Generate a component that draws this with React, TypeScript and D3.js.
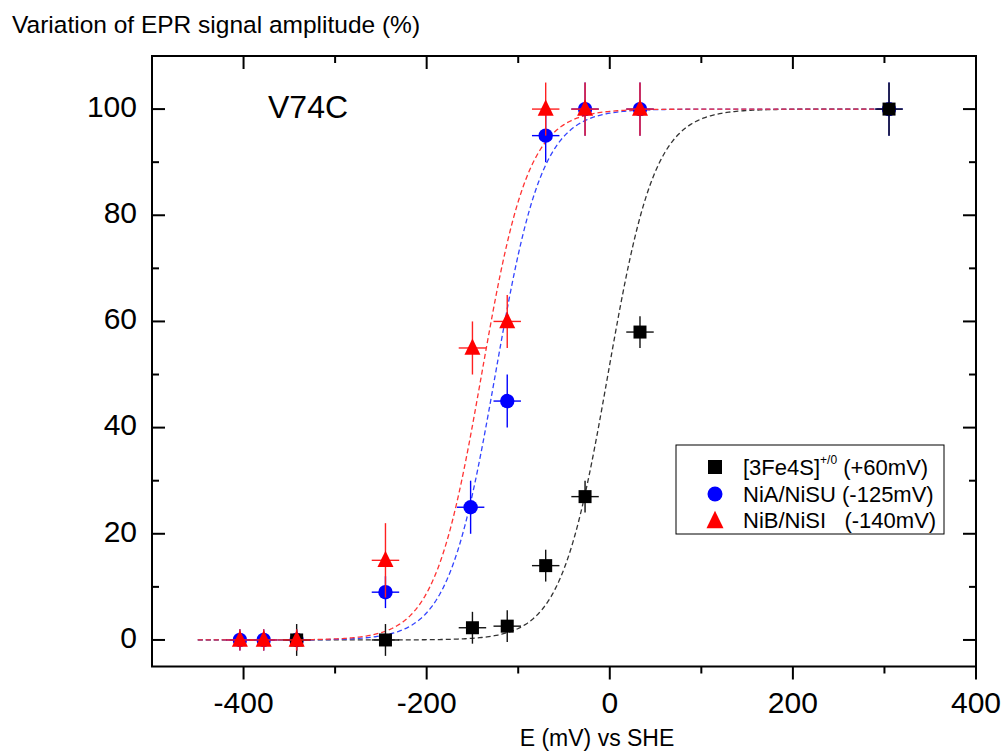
import React from "react";
import * as d3 from "d3";

// ---- data ----
const blackE = [-342, -245, -150, -112, -70, -27, 33, 305];
const blackV = [0, 0, 2.3, 2.6, 14, 27, 58, 100];
const blackErr = [3, 3, 3, 3, 3, 3, 3, 5];

const blueE = [-404, -378, -342, -245, -152, -112, -70, -27, 33, 305];
const blueV = [0, 0, 0, 9, 25, 45, 95, 100, 100, 100];
const blueErr = [2, 2, 2, 3, 5, 5, 5, 5, 5, 5];

const redE = [-404, -378, -342, -245, -150, -112, -70, -27, 33];
const redV = [0, 0, 0, 15, 55, 60, 100, 100, 100];
const redErr = [2, 2, 2, 7, 5, 5, 5, 5, 5];

const xErrMV = 15;

// Nernst fit midpoints (mV), n = 1
const fitMid = [-2, -125, -140];
const fitColors = ["#333333", "#3344ff", "#ff3333"];
const fitRange = [-450, 300];

const xTicksMajor = [-400, -200, 0, 200, 400];
const xTicksMinor = [-300, -100, 100, 300];
const yTicksMajor = [0, 20, 40, 60, 80, 100];
const yTicksMinor = [10, 30, 50, 70, 90];

const legendLabels = ["[3Fe4S]", "NiA/NiSU (-125mV)", "NiB/NiSI   (-140mV)"];

const W = 1007;
const H = 753;
const L = 152, R = 976, T = 56, B = 666.5;

export default function App() {
  const x = d3.scaleLinear().domain([-500, 400]).range([L, R]);
  const y = d3.scaleLinear().domain([-5, 110]).range([B, T]);

  const sample = d3.range(fitRange[0], fitRange[1] + 0.1, 2);
  const line = d3.line<number[]>().x((d) => x(d[0])).y((d) => y(d[1]));
  const fits = fitMid.map((e0) =>
    line(sample.map((e) => [e, 100 / (1 + Math.exp(-(e - e0) / 25.7))]))
  );

  const square = (cx: number, cy: number, s: number, fill: string, key: string) => (
    <rect key={key} x={cx - s / 2} y={cy - s / 2} width={s} height={s} fill={fill} />
  );
  const circle = (cx: number, cy: number, r: number, fill: string, key: string) => (
    <circle key={key} cx={cx} cy={cy} r={r} fill={fill} />
  );
  const tri = (cx: number, cy: number, s: number, fill: string, key: string) => (
    <path
      key={key}
      d={`M${cx},${cy - s * 0.6}L${cx - s / 2},${cy + s * 0.42}L${cx + s / 2},${cy + s * 0.42}Z`}
      fill={fill}
    />
  );

  const errBars = (E: number[], V: number[], err: number[], color: string, k: string) =>
    E.map((e, i) => (
      <g key={k + i} stroke={color} strokeWidth={1.4}>
        <line x1={x(e)} x2={x(e)} y1={y(V[i] - err[i])} y2={y(V[i] + err[i])} />
        <line x1={x(e - xErrMV)} x2={x(e + xErrMV)} y1={y(V[i])} y2={y(V[i])} />
      </g>
    ));

  const font = "Liberation Sans, Arial, sans-serif";

  return (
    <svg
      width={W}
      height={H}
      style={{ position: "absolute", left: 0, top: 0, background: "#fff" }}
      fontFamily={font}
    >
      <rect x={0} y={0} width={W} height={H} fill="#fff" />

      {/* fit curves */}
      {fits.map((d, i) => (
        <path key={"fit" + i} d={d || ""} fill="none" stroke={fitColors[i]} strokeWidth={1.3} strokeDasharray="5,3" />
      ))}

      {/* blue series */}
      {errBars(blueE, blueV, blueErr, "#0000ff", "be")}
      {blueE.map((e, i) => circle(x(e), y(blueV[i]), 7.2, "#0000ff", "bc" + i))}

      {/* black series */}
      {errBars(blackE, blackV, blackErr, "#111", "ke")}
      {blackE.map((e, i) => square(x(e), y(blackV[i]), 13, "#000", "ks" + i))}

      {/* red series */}
      {errBars(redE, redV, redErr, "#ff2020", "re")}
      {redE.map((e, i) => tri(x(e), y(redV[i]), 16, "#ff0000", "rt" + i))}

      {/* frame */}
      <rect x={L} y={T} width={R - L} height={B - T} fill="none" stroke="#000" strokeWidth={2} />

      {/* x ticks: bottom outward, top inward */}
      <g stroke="#000" strokeWidth={2}>
        {xTicksMajor.map((v) => (
          <g key={"xM" + v}>
            <line x1={x(v)} x2={x(v)} y1={B} y2={B + 13} />
            <line x1={x(v)} x2={x(v)} y1={T} y2={T + 13} />
          </g>
        ))}
        {xTicksMinor.map((v) => (
          <g key={"xm" + v}>
            <line x1={x(v)} x2={x(v)} y1={B} y2={B + 7} />
            <line x1={x(v)} x2={x(v)} y1={T} y2={T + 7} />
          </g>
        ))}
        {yTicksMajor.map((v) => (
          <g key={"yM" + v}>
            <line x1={L} x2={L + 13} y1={y(v)} y2={y(v)} />
            <line x1={R} x2={R - 13} y1={y(v)} y2={y(v)} />
          </g>
        ))}
        {yTicksMinor.map((v) => (
          <g key={"ym" + v}>
            <line x1={L} x2={L + 7} y1={y(v)} y2={y(v)} />
            <line x1={R} x2={R - 7} y1={y(v)} y2={y(v)} />
          </g>
        ))}
      </g>

      {/* tick labels */}
      {xTicksMajor.map((v) => (
        <text key={"xl" + v} x={x(v)} y={713} textAnchor="middle" fontSize={30} fill="#000">
          {String(v)}
        </text>
      ))}
      {yTicksMajor.map((v) => (
        <text key={"yl" + v} x={137} y={y(v) + 7.8} textAnchor="end" fontSize={30} fill="#000">
          {String(v)}
        </text>
      ))}

      {/* titles */}
      <text x={12} y={33} fontSize={24.5} fill="#000">
        Variation of EPR signal amplitude (%)
      </text>
      <text x={597} y={746} textAnchor="middle" fontSize={23} fill="#000">
        E (mV) vs SHE
      </text>
      <text x={268} y={117.5} fontSize={32} fill="#000">
        V74C
      </text>

      {/* legend */}
      <rect x={676} y={445} width={268} height={89} fill="#fff" stroke="#000" strokeWidth={1} />
      {square(715, 467, 14, "#000", "lg0")}
      {circle(715, 494, 7.5, "#0000ff", "lg1")}
      {tri(715, 521, 17, "#ff0000", "lg2")}
      <text x={743} y={475} fontSize={22} fill="#000">
        {legendLabels[0]}
        <tspan fontSize={12} dy={-11}>+/0</tspan>
        <tspan dy={11}> (+60mV)</tspan>
      </text>
      <text x={743} y={502} fontSize={22} fill="#000">
        {legendLabels[1]}
      </text>
      <text x={743} y={528} fontSize={22} fill="#000" style={{ whiteSpace: "pre" }}>
        {legendLabels[2]}
      </text>
    </svg>
  );
}
